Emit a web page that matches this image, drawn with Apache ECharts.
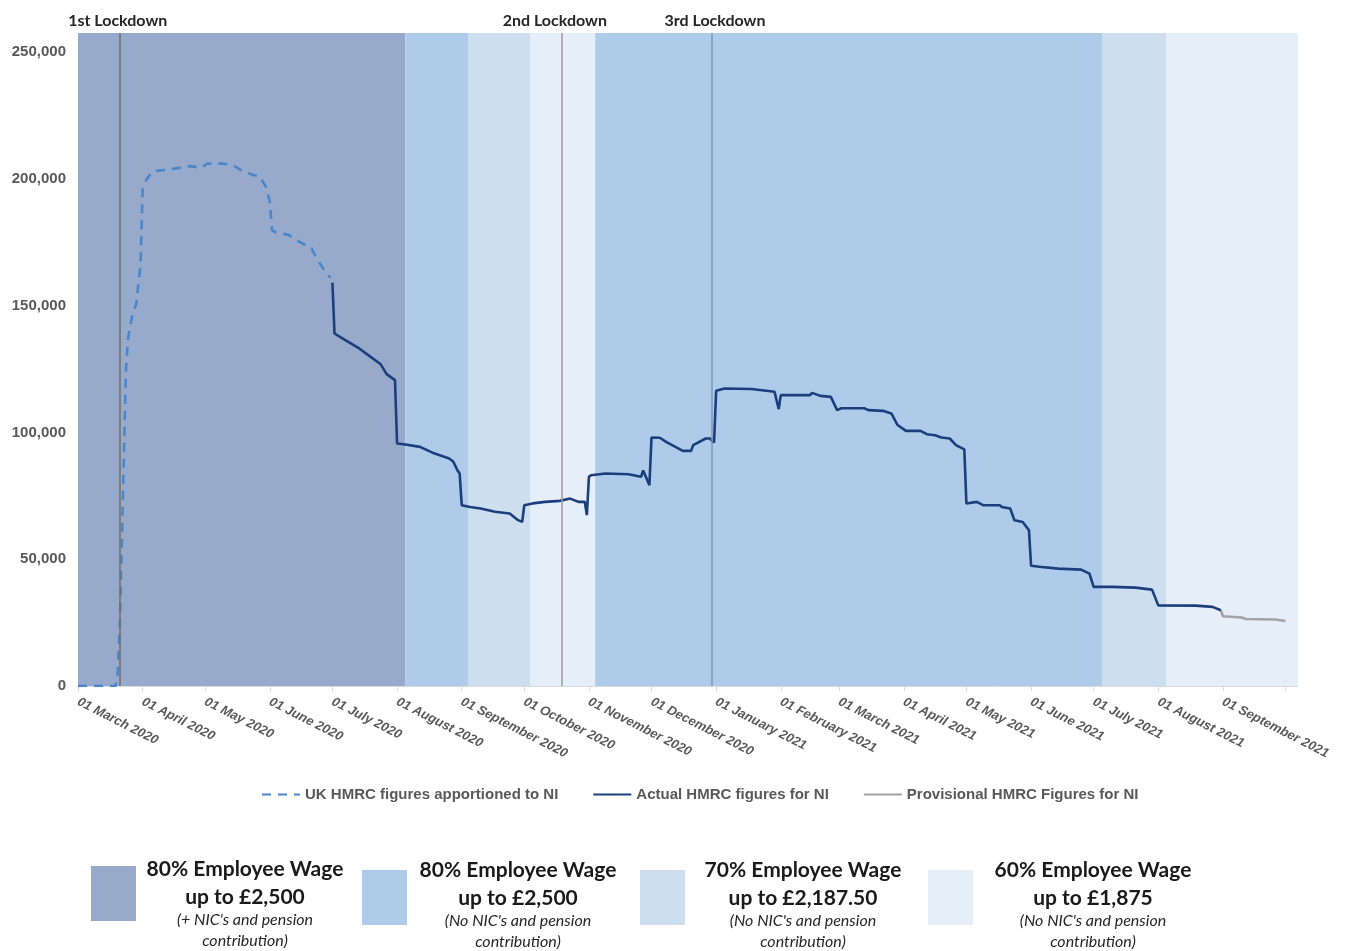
<!DOCTYPE html>
<html>
<head>
<meta charset="utf-8">
<script src="https://cdn.jsdelivr.net/npm/echarts@6/dist/echarts.min.js"></script>
<style>
  html, body { margin: 0; padding: 0; background: #ffffff; }
  #chart { width: 1346px; height: 951px; }
</style>
</head>
<body>
<div id="chart"></div>
<script>
// Coronavirus Job Retention Scheme – employments furloughed in Northern Ireland

// UK HMRC figures apportioned to NI (dashed)
const ukApportioned = [
  ['2020-03-01', 0], ['2020-03-19', 0], ['2020-03-20', 5000], ['2020-03-21', 22000],
  ['2020-03-22', 55000], ['2020-03-23', 90000], ['2020-03-24', 125000], ['2020-03-25', 137000],
  ['2020-03-27', 146000], ['2020-03-29', 151000], ['2020-03-30', 159000], ['2020-03-31', 166000],
  ['2020-04-01', 196000], ['2020-04-03', 200000], ['2020-04-06', 203000], ['2020-04-12', 203500],
  ['2020-04-24', 205000], ['2020-04-29', 204400], ['2020-05-02', 206000], ['2020-05-09', 206000],
  ['2020-05-14', 205500], ['2020-05-18', 203500], ['2020-05-24', 201500], ['2020-05-27', 201000],
  ['2020-05-30', 197000], ['2020-06-01', 191000], ['2020-06-02', 179800], ['2020-06-04', 178800],
  ['2020-06-10', 177900], ['2020-06-15', 175200], ['2020-06-21', 172600], ['2020-06-23', 169300],
  ['2020-06-27', 164000], ['2020-06-30', 161000]
];

// Actual HMRC figures for NI (solid navy)
const actualNI = [
  ['2020-07-01', 159000], ['2020-07-02', 139000], ['2020-07-06', 137000], ['2020-07-14', 133000],
  ['2020-07-19', 130000], ['2020-07-24', 127000], ['2020-07-27', 123000], ['2020-07-31', 120600],
  ['2020-08-01', 95600], ['2020-08-05', 95200], ['2020-08-12', 94300], ['2020-08-18', 92000],
  ['2020-08-26', 89700], ['2020-08-28', 88400], ['2020-08-30', 85000], ['2020-08-31', 83800],
  ['2020-09-01', 71300], ['2020-09-05', 70600], ['2020-09-10', 70000], ['2020-09-17', 68700],
  ['2020-09-24', 68000], ['2020-09-28', 65400], ['2020-09-30', 64700], ['2020-10-01', 71300],
  ['2020-10-05', 72000], ['2020-10-11', 72600], ['2020-10-18', 73000], ['2020-10-23', 73900],
  ['2020-10-27', 72600], ['2020-10-30', 72600], ['2020-10-31', 67400], ['2020-11-01', 82500],
  ['2020-11-02', 83100], ['2020-11-09', 83800], ['2020-11-20', 83500], ['2020-11-26', 82500],
  ['2020-11-27', 85000], ['2020-11-30', 79200], ['2020-12-01', 98000], ['2020-12-05', 97900],
  ['2020-12-08', 96300], ['2020-12-16', 92700], ['2020-12-20', 92700], ['2020-12-21', 95000],
  ['2020-12-27', 97600], ['2020-12-29', 97600], ['2020-12-31', 96000], ['2021-01-01', 116400],
  ['2021-01-05', 117300], ['2021-01-18', 117100], ['2021-01-25', 116400], ['2021-01-29', 116000],
  ['2021-01-31', 109200], ['2021-02-01', 114700], ['2021-02-15', 114700], ['2021-02-16', 115600],
  ['2021-02-20', 114400], ['2021-02-25', 114000], ['2021-02-28', 108800], ['2021-03-02', 109500],
  ['2021-03-13', 109500], ['2021-03-15', 108800], ['2021-03-22', 108500], ['2021-03-26', 107500],
  ['2021-03-29', 102900], ['2021-04-02', 100600], ['2021-04-09', 100600], ['2021-04-12', 99300],
  ['2021-04-16', 98900], ['2021-04-19', 98000], ['2021-04-23', 97600], ['2021-04-26', 95000],
  ['2021-04-30', 93300], ['2021-05-01', 72000], ['2021-05-06', 72600], ['2021-05-09', 71300],
  ['2021-05-17', 71300], ['2021-05-18', 70600], ['2021-05-22', 70000], ['2021-05-24', 65400],
  ['2021-05-28', 64700], ['2021-05-31', 61400], ['2021-06-01', 47400], ['2021-06-05', 47000],
  ['2021-06-14', 46300], ['2021-06-25', 45900], ['2021-06-29', 44300], ['2021-07-01', 39100],
  ['2021-07-10', 39100], ['2021-07-21', 38800], ['2021-07-29', 38000], ['2021-08-01', 31800],
  ['2021-08-19', 31700], ['2021-08-27', 31200], ['2021-08-31', 29900]
];

// Provisional HMRC figures for NI (grey)
const provisionalNI = [
  ['2021-08-31', 29900], ['2021-09-01', 27500], ['2021-09-10', 27000], ['2021-09-12', 26400],
  ['2021-09-26', 26200], ['2021-10-01', 25600]
];

const seriesNames = ['UK HMRC figures apportioned to NI', 'Actual HMRC figures for NI', 'Provisional HMRC Figures for NI'];

// Month names for the date tick labels; the last labelled tick is September 2021
const monthNames = ['January', 'February', 'March', 'April', 'May', 'June', 'July', 'August', 'September', 'October', 'November', 'December'];
const lastLabelledMonth = '2021-09-01';

// Scheme periods: edges of each shaded period and which scheme applies
const periodEdges = ['2020-03-01', '2020-08-05', '2020-09-04', '2020-10-04', '2020-11-04', '2021-07-05', '2021-08-05', '2021-10-07'];
const periodScheme = [0, 1, 2, 3, 1, 2, 3];

// Scheme descriptions
const schemeTitles = ['80% Employee Wage', '80% Employee Wage', '70% Employee Wage', '60% Employee Wage'];
const schemeCaps = ['up to £2,500', 'up to £2,500', 'up to £2,187.50', 'up to £1,875'];
const schemeNotes = ["(+ NIC's and pension", "(No NIC's and pension", "(No NIC's and pension", "(No NIC's and pension"];
const schemeNotes2 = ['contribution)', 'contribution)', 'contribution)', 'contribution)'];

// Lockdowns
const lockdownNames = ['1st Lockdown', '2nd Lockdown', '3rd Lockdown'];
const lockdownDates = ['2020-03-21', '2020-10-19', '2020-12-30'];

// Styling
const schemeColors = ['#97AACB', '#AECCE9', '#CDDEEE', '#E6EFF9'];
const lockdownColors = ['#6f6f6f', '#9a9a9a', '#7f98ba'];
const lockdownLabelPad = [[0, 4, 0, 0], [0, 14, 0, 0], [0, 0, 0, 6]];
const axisFont = 'Liberation Sans, Arial, sans-serif';
const textFont = 'Lato, "Open Sans", sans-serif';

const chart = echarts.init(document.getElementById('chart'), null, { renderer: 'canvas' });

const bandData = periodScheme.map((s, i) => [
  { xAxis: periodEdges[i], itemStyle: { color: schemeColors[s], opacity: 1 } },
  { xAxis: periodEdges[i + 1] }
]);

const lockdownData = lockdownNames.map((n, i) => ({
  xAxis: lockdownDates[i],
  lineStyle: { color: lockdownColors[i], width: 1.5, type: 'solid' },
  label: { formatter: n, padding: lockdownLabelPad[i] }
}));

const lastLabelTime = new Date(lastLabelledMonth + 'T00:00:00').getTime();
function dateLabel(val) {
  if (val > lastLabelTime) return '';
  const d = new Date(val);
  const dd = String(d.getDate()).padStart(2, '0');
  return dd + ' ' + monthNames[d.getMonth()] + ' ' + d.getFullYear();
}

// Scheme key under the chart
const keyBoxX = [91, 362, 640, 928];
const keyBoxY = [866, 870, 870, 870];
const keyTextX = [245, 518, 803, 1093];
const keyTextY = [869, 870, 870, 870];
const graphics = [];
schemeTitles.forEach((t, i) => {
  graphics.push({ type: 'rect', shape: { x: keyBoxX[i], y: keyBoxY[i], width: 45, height: 55 }, style: { fill: schemeColors[i] } });
  const cx = keyTextX[i], y0 = keyTextY[i];
  graphics.push({ type: 'text', style: { text: t, x: cx, y: y0, textAlign: 'center', textVerticalAlign: 'middle', font: 'bold 21px ' + textFont, fill: '#1a1a1a' } });
  graphics.push({ type: 'text', style: { text: schemeCaps[i], x: cx, y: y0 + 28, textAlign: 'center', textVerticalAlign: 'middle', font: 'bold 21px ' + textFont, fill: '#1a1a1a' } });
  graphics.push({ type: 'text', style: { text: schemeNotes[i], x: cx, y: y0 + 51, textAlign: 'center', textVerticalAlign: 'middle', font: 'italic 16px ' + textFont, fill: '#262626' } });
  graphics.push({ type: 'text', style: { text: schemeNotes2[i], x: cx, y: y0 + 72, textAlign: 'center', textVerticalAlign: 'middle', font: 'italic 16px ' + textFont, fill: '#262626' } });
});

chart.setOption({
  animation: false,
  backgroundColor: '#ffffff',
  grid: { left: 78, right: 48, top: 33, bottom: 265, containLabel: false, outerBoundsMode: 'none' },
  legend: {
    data: seriesNames,
    left: 256, top: 782,
    itemWidth: 38, itemHeight: 2, itemGap: 34,
    textStyle: { fontFamily: axisFont, fontSize: 15, fontWeight: 'bold', color: '#595959' }
  },
  xAxis: {
    type: 'time',
    min: periodEdges[0],
    max: periodEdges[periodEdges.length - 1],
    splitNumber: 19,
    minInterval: 28 * 24 * 3600 * 1000,
    maxInterval: 31 * 24 * 3600 * 1000,
    axisLine: { show: true, lineStyle: { color: '#d9d9d9', width: 1 } },
    axisTick: { show: true, length: 5, lineStyle: { color: '#d9d9d9' } },
    splitLine: { show: false },
    axisLabel: {
      formatter: dateLabel,
      rotate: -27, interval: 0, hideOverlap: false, margin: 15,
      fontFamily: axisFont, fontSize: 13, fontWeight: 'bold', fontStyle: 'italic', color: '#595959'
    }
  },
  yAxis: {
    type: 'value', min: 0, max: 257500, interval: 50000,
    axisLine: { show: false }, axisTick: { show: false }, splitLine: { show: false },
    axisLabel: { showMaxLabel: false, margin: 12, fontFamily: axisFont, fontSize: 15, fontWeight: 'bold', color: '#595959' }
  },
  series: [
    {
      type: 'line', data: [], z: 0, silent: true,
      markArea: { silent: true, data: bandData }
    },
    {
      type: 'line', data: [], z: 1, silent: true,
      markLine: {
        silent: true, symbol: 'none', animation: false,
        data: lockdownData,
        label: { show: true, position: 'end', distance: 4, fontFamily: textFont, fontSize: 16, fontWeight: 'bold', color: '#262626' }
      }
    },
    {
      name: seriesNames[0], type: 'line', data: ukApportioned, z: 3,
      showSymbol: false, symbol: 'none',
      lineStyle: { color: '#4A86C8', width: 2.6, type: [9, 7] },
      itemStyle: { color: '#4A86C8' }
    },
    {
      name: seriesNames[1], type: 'line', data: actualNI, z: 4,
      showSymbol: false, symbol: 'none',
      lineStyle: { color: '#1C3E7C', width: 2.6 },
      itemStyle: { color: '#1C3E7C' }
    },
    {
      name: seriesNames[2], type: 'line', data: provisionalNI, z: 3,
      showSymbol: false, symbol: 'none',
      lineStyle: { color: '#A3A3A3', width: 2.6 },
      itemStyle: { color: '#A3A3A3' }
    }
  ],
  graphic: graphics
});
</script>
</body>
</html>
